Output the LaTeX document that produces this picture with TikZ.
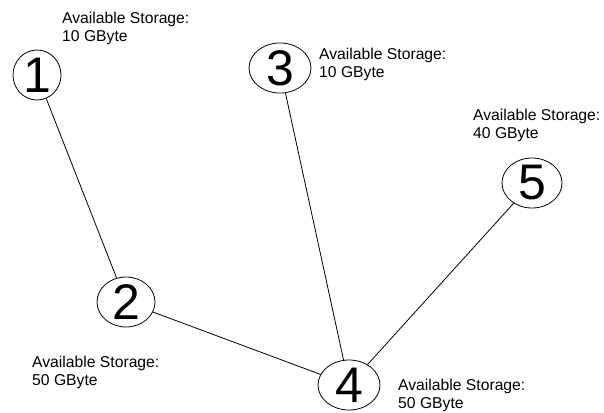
\documentclass[tikz,border=0pt]{standalone}
\usepackage{fontspec}
\setmainfont{Liberation Sans}
\usetikzlibrary{shapes.geometric}
\begin{document}
\begin{tikzpicture}[x=1pt,y=-1pt,
    peer/.style={draw,ellipse,line width=0.8pt,inner sep=0pt,minimum width=60pt,
      minimum height=50pt,font=\fontsize{50}{50}\selectfont},
    avail/.style={anchor=north west,inner sep=0pt,align=left,
      font=\fontsize{15.7}{18}\selectfont},
    conn/.style={line width=0.8pt}]
    \useasboundingbox (0,0) rectangle (604,412);
    \node[peer,minimum width=48pt] (p1) at (37,75) {1};
    \node[peer,minimum width=58pt] (p2) at (126,302) {2};
    \node[peer,minimum width=62pt] (p3) at (280,68) {3};
    \node[peer,minimum width=62pt] (p4) at (349,385) {4};
    \node[peer] (p5) at (532,183) {5};

    \node[avail] (s1) at (62,11.6) {Available Storage:\\10 GByte};
    \node[avail] (s2) at (32,355.6) {Available Storage:\\50 GByte};
    \node[avail] (s3) at (319,47.6) {Available Storage:\\10 GByte};
    \node[avail] (s4) at (398,378.6) {Available Storage:\\50 GByte};
    \node[avail] (s5) at (473,108.6) {Available Storage:\\40 GByte};

    \draw (p1) edge[conn] (p2) (p2) edge[conn] (p4)
          (p3) edge[conn] (p4) (p5) edge[conn] (p4);
\end{tikzpicture}
\end{document}
